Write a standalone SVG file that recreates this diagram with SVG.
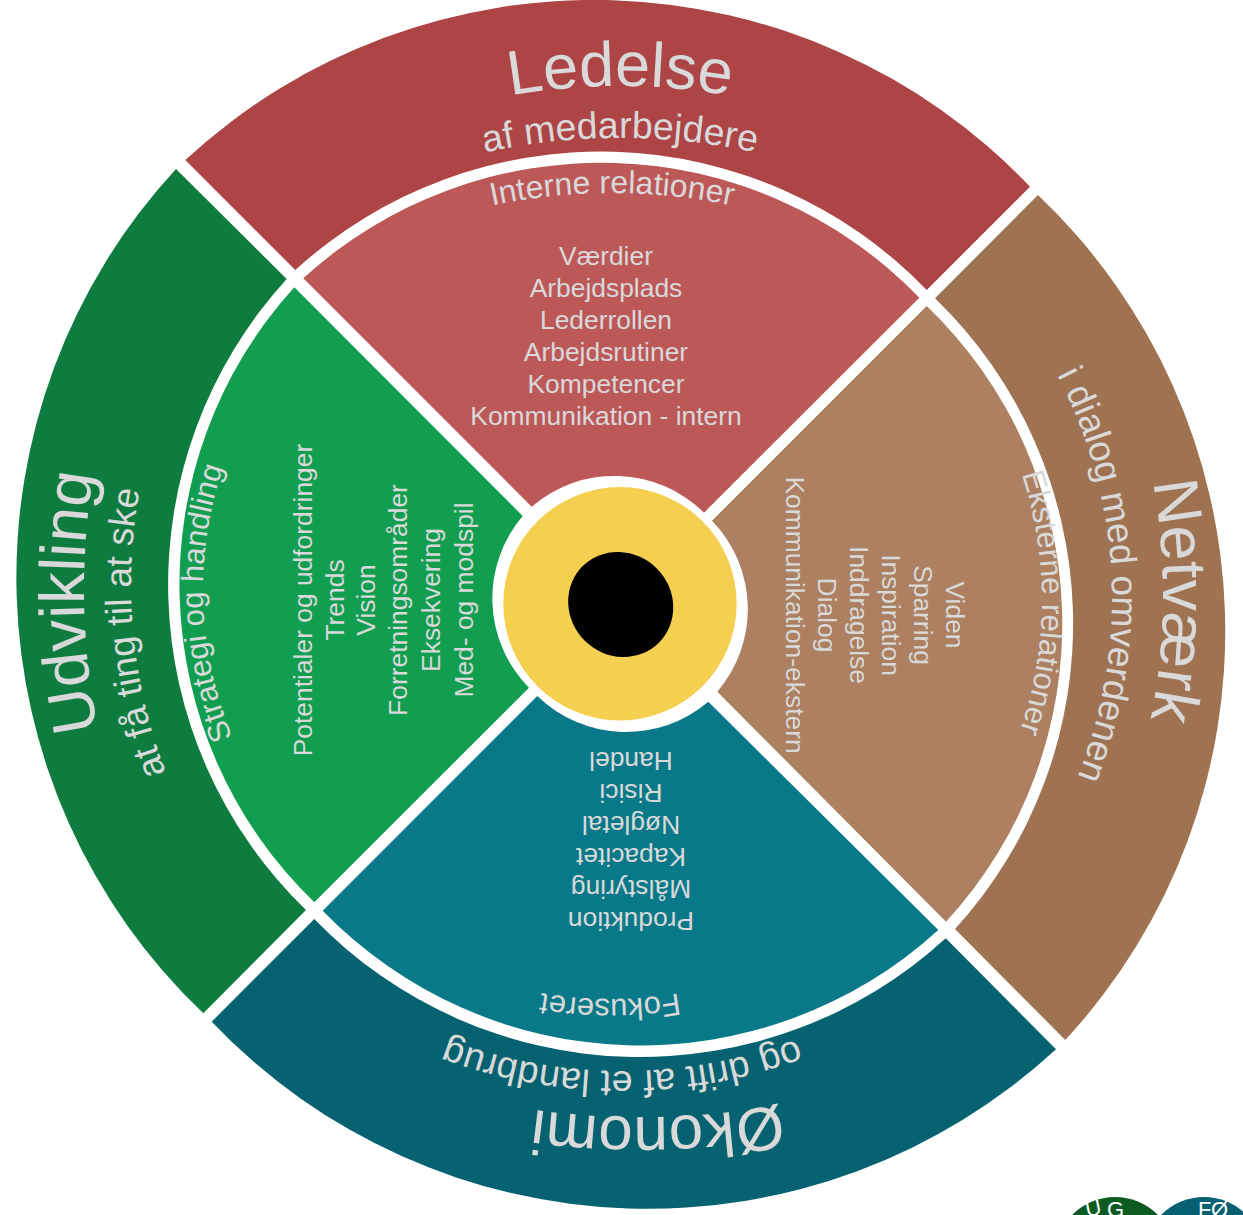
<svg xmlns="http://www.w3.org/2000/svg" width="1243" height="1215" viewBox="0 0 1243 1215">
<style>
text{font-family:"Liberation Sans",Arial,sans-serif;fill:#D9D9D9}
.l{font-size:26.4px;text-anchor:middle}
.c{text-anchor:middle}
.t{font-size:63px}.s{font-size:37.5px}.i{font-size:31.5px}
</style>
<defs>
<path id="a640" d="M-411.4-490.3A640 640 0 0 1 411.4-490.3"/>
<path id="a582" d="M-374.1-445.8A582 582 0 0 1 374.1-445.8"/>
<path id="a630" d="M-405-482.6A630 630 0 0 1 405-482.6"/>
<path id="a480" d="M-308.5-367.7A480 480 0 0 1 308.5-367.7"/>
<path id="a400" d="M-257.1-306.4A400 400 0 0 1 257.1-306.4"/>
<path id="a700" d="M-450-536.2A700 700 0 0 1 450-536.2"/>
<path id="a520" d="M-334.3-398.3A520 520 0 0 1 334.3-398.3"/>
<path id="a380" d="M-244.3-291.1A380 380 0 0 1 244.3-291.1"/>
<path id="a800" d="M-514.2-612.8A800 800 0 0 1 514.2-612.8"/>
<path id="a497" d="M-319.5-380.7A497 497 0 0 1 319.5-380.7"/>
</defs>
<g id="badges">
<circle cx="1115" cy="1257" r="60" fill="#0B5B22"/>
<circle cx="1204" cy="1257" r="60" fill="#06606F"/>
<text x="1087 1107" y="1217" font-size="22" style="fill:#fff" rotate="-12 0">UG</text>
<text x="1198 1211" y="1217" font-size="22" style="fill:#fff">FØ</text>
</g>
<g id="ledelse">
<path fill="#AD4446" d="M185.3 160A602 602 0 0 1 1030 186.7L926.7 290A453 453 0 0 0 295.3 270Z"/>
<text class="c t" transform="translate(620 726)"><textPath href="#a640" startOffset="50%">Ledelse</textPath></text>
<text class="c s" transform="translate(620 778)"><textPath href="#a640" startOffset="50%">af medarbejdere</textPath></text>
</g>
<g id="interne-relationer">
<path fill="#BD5859" d="M303.3 278.3A442 442 0 0 1 919.3 297.7L704 512.7A127 127 0 0 0 531.7 506.7Z"/>
<text class="c" font-size="32" transform="translate(612 775)"><textPath href="#a582" startOffset="50%">Interne relationer</textPath></text>
<text class="l" x="606" y="265">Værdier</text>
<text class="l" x="606" y="297">Arbejdsplads</text>
<text class="l" x="606" y="329">Lederrollen</text>
<text class="l" x="606" y="361">Arbejdsrutiner</text>
<text class="l" x="606" y="393">Kompetencer</text>
<text class="l" x="606" y="425">Kommunikation - intern</text>
</g>
<g id="netvaerk">
<path fill="#9F7251" d="M1038 195A602 602 0 0 1 1065.3 1040L955 929A453 453 0 0 0 935 298.3Z"/>
<text class="c t" transform="translate(533 595) rotate(90.5)"><textPath href="#a630" startOffset="50%">Netværk</textPath></text>
<text class="c" font-size="37" transform="translate(632 598) rotate(87.1)"><textPath href="#a480" startOffset="50%">i dialog med omverdenen</textPath></text>
</g>
<g id="eksterne-relationer">
<path fill="#AC8060" d="M926.7 306A440 440 0 0 1 946 921.7L717.3 691.7A127 127 0 0 0 712 520.7Z"/>
<text class="c" font-size="31.2" transform="translate(642 600) rotate(90.4)"><textPath href="#a400" startOffset="50%">Eksterne relationer</textPath></text>
<g transform="translate(0 615) rotate(90)">
<text class="l" x="0" y="-946">Viden</text>
<text class="l" x="0" y="-914">Sparring</text>
<text class="l" x="0" y="-882">Inspiration</text>
<text class="l" x="0" y="-850">Inddragelse</text>
<text class="l" x="0" y="-818">Dialog</text>
<text class="l" x="0" y="-786">Kommunikation-ekstern</text>
</g>
</g>
<g id="oekonomi">
<path fill="#066271" d="M1056 1049.3A602 602 0 0 1 211.7 1021.7L314.3 919A453 453 0 0 0 945.7 938.3Z"/>
<text class="c" font-size="62" transform="translate(640 317) rotate(178.75)"><textPath href="#a800" startOffset="50%">Økonomi</textPath></text>
<text class="c" font-size="37.8" transform="translate(622 574) rotate(180)"><textPath href="#a497" startOffset="50%">og drift af et landbrug</textPath></text>
</g>
<g id="fokuseret">
<path fill="#097989" d="M938.3 930A442 442 0 0 1 322.7 910.7L537.3 696A127 127 0 0 0 708.3 701.7Z"/>
<text class="c" font-size="31" transform="translate(610 599) rotate(180)"><textPath href="#a400" startOffset="50%">Fokuseret</textPath></text>
<g transform="translate(631 0) rotate(180)">
<text class="l" x="0" y="-752">Handel</text>
<text class="l" x="0" y="-784">Risici</text>
<text class="l" x="0" y="-816">Nøgletal</text>
<text class="l" x="0" y="-848">Kapacitet</text>
<text class="l" x="0" y="-880">Målstyring</text>
<text class="l" x="0" y="-912">Produktion</text>
</g>
</g>
<g id="udvikling">
<path fill="#0E7B3F" d="M203.3 1013.3A602 602 0 0 1 176 169L286.7 279A453 453 0 0 0 306 910Z"/>
<text class="c" font-size="63.5" transform="translate(784 590) rotate(269)"><textPath href="#a700" startOffset="50%">Udvikling</textPath></text>
<text class="c" font-size="37" transform="translate(651 585) rotate(264.7)"><textPath href="#a520" startOffset="50%">at få ting til at ske</textPath></text>
</g>
<g id="strategi">
<path fill="#119E50" d="M314.3 902.3A442 442 0 0 1 294.3 287.3L522.7 516A127 127 0 0 0 529 687.7Z"/>
<text class="c" font-size="31" transform="translate(583 590) rotate(268)"><textPath href="#a380" startOffset="50%">Strategi og handling</textPath></text>
<g transform="translate(0 600) rotate(-90)">
<text class="l" x="0" y="312">Potentialer og udfordringer</text>
<text class="l" x="0" y="344">Trends</text>
<text class="l" x="0" y="375">Vision</text>
<text class="l" x="0" y="407">Forretningsområder</text>
<text class="l" x="0" y="440">Eksekvering</text>
<text class="l" x="0" y="473">Med- og modspil</text>
</g>
</g>
<g id="center">
<circle cx="620" cy="603.7" r="116.7" fill="#F5D050"/>
<ellipse cx="620.7" cy="604.5" rx="54" ry="51" transform="rotate(45 620.7 604.5)"/>
</g>
</svg>
